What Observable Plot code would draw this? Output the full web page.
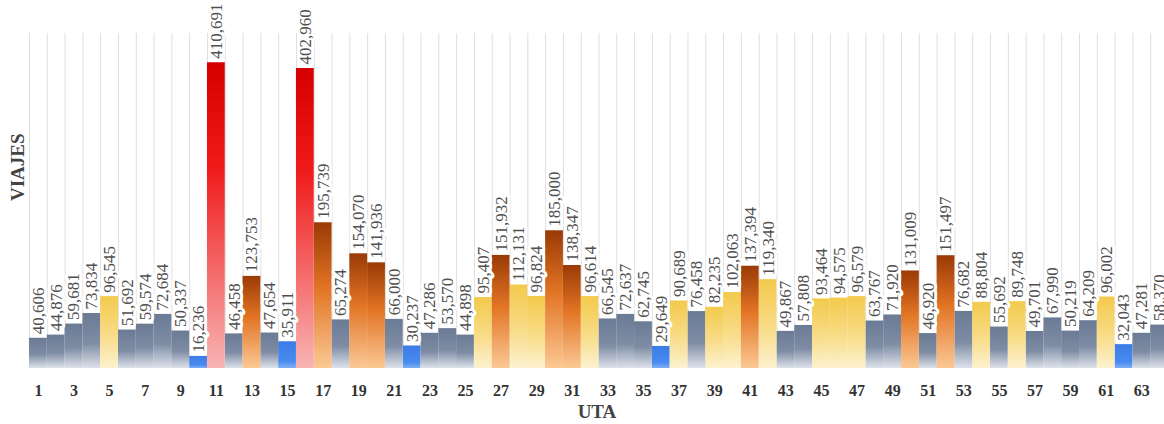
<!DOCTYPE html>
<html>
<head>
<meta charset="utf-8">
<script src="https://cdn.jsdelivr.net/npm/d3@7"></script>
<script src="https://cdn.jsdelivr.net/npm/@observablehq/plot@0.6"></script>
<style>
  html, body { margin: 0; padding: 0; background: #fff; overflow: hidden; }
  #chart svg { display: block; }
  #chart svg, #chart svg text { font-family: "Liberation Serif", "Times New Roman", serif !important; }
</style>
</head>
<body>
<div id="chart"></div>
<script>
// ---- data ----
const utas = d3.range(1, 65);
const viajes = [
  40606, 44876, 59681, 73834, 96545, 51692, 59574, 72684, 50337, 16236,
  410691, 46458, 123753, 47654, 35911, 402960, 195739, 65274, 154070, 141936,
  66000, 30237, 47286, 53570, 44898, 95407, 151932, 112131, 96824, 185000,
  138347, 96614, 66545, 72637, 62745, 29649, 90689, 76458, 82235, 102063,
  137394, 119340, 49867, 57808, 93464, 94575, 96579, 63767, 71920, 131009,
  46920, 151497, 76682, 88804, 55692, 89748, 49701, 67990, 50219, 64209,
  96002, 32043, 47281, 58370
];
const xTickLabels = d3.range(1, 65, 2);
const xTitle = ["UTA"];
const yTitle = ["VIAJES"];
const classes = ["blue", "gray", "yellow", "orange", "red"];

// ---- derived table ----
function classOf(v) {
  if (v < 40000) return "blue";
  if (v < 80000) return "gray";
  if (v < 120000) return "yellow";
  if (v < 200000) return "orange";
  return "red";
}
const data = utas.map((u, i) => ({uta: u, value: viajes[i], cls: classOf(viajes[i])}));
const edges = utas.map(u => u - 0.5).concat([utas[utas.length - 1] + 0.5]);

const gradients = {
  gray:   [["0%", "#6b7b95"], ["55%", "#7e8ca4"], ["100%", "#dde2ea"]],
  yellow: [["0%", "#f3ca4c"], ["55%", "#f8dc88"], ["100%", "#fdf2d0"]],
  orange: [["0%", "#9a3a06"], ["45%", "#e27424"], ["100%", "#fbc894"]],
  red:    [["0%", "#d40000"], ["35%", "#f01c1c"], ["100%", "#f8b4b4"]],
  blue:   [["0%", "#3b7be6"], ["75%", "#4a8bf0"], ["100%", "#7fb0f4"]]
};

function defsMark() {
  const ns = "http://www.w3.org/2000/svg";
  const defs = document.createElementNS(ns, "defs");
  for (const [name, stops] of Object.entries(gradients)) {
    const lg = document.createElementNS(ns, "linearGradient");
    lg.setAttribute("id", "g-" + name);
    lg.setAttribute("x1", "0"); lg.setAttribute("y1", "0");
    lg.setAttribute("x2", "0"); lg.setAttribute("y2", "1");
    for (const [off, col] of stops) {
      const s = document.createElementNS(ns, "stop");
      s.setAttribute("offset", off);
      s.setAttribute("stop-color", col);
      lg.appendChild(s);
    }
    defs.appendChild(lg);
  }
  return defs;
}

const serif = "Liberation Serif";

const chart = Plot.plot({
  width: 1164,
  height: 424,
  marginLeft: 29,
  marginRight: 0,
  marginTop: 33,
  marginBottom: 56,
  style: {background: "#fff"},
  x: {type: "linear", domain: [0.5, 64.5], range: [29, 1168], axis: null},
  y: {domain: [0, 450000], range: [368, 33], axis: null},
  marks: [
    defsMark,
    Plot.ruleX(edges, {x: d => d, y1: 0, y2: 450000, stroke: "#dedede", strokeWidth: 1}),
    ...classes.map(c => Plot.rectY(data.filter(d => d.cls === c), {
      x1: d => d.uta - 0.5, x2: d => d.uta + 0.5, y: "value", fill: `url(#g-${c})`
    })),
    Plot.text(data, {
      x: "uta", y: "value", text: d => d3.format(",")(d.value),
      rotate: -90, textAnchor: "start", dy: -4, fontFamily: serif,
      fontSize: 17, fill: "#505050", stroke: "white", strokeWidth: 6, strokeLinejoin: "round"
    }),
    // x tick labels, positioned through the x scale
    Plot.text(xTickLabels, {
      x: d => d, text: d => String(d), frameAnchor: "bottom", lineAnchor: "middle", dy: 22,
      fontFamily: serif, fontSize: 16, fontWeight: "bold", fill: "#333"
    }),
    Plot.text(xTitle, {frameAnchor: "bottom", text: d => d, lineAnchor: "middle", dy: 43, fontFamily: serif, fontSize: 19, fontWeight: "bold", fill: "#444"}),
    Plot.text(yTitle, {frameAnchor: "left", text: d => d, rotate: -90, dx: -12, fontFamily: serif, fontSize: 19, fontWeight: "bold", fill: "#444"})
  ]
});
document.getElementById("chart").appendChild(chart);
</script>
</body>
</html>
